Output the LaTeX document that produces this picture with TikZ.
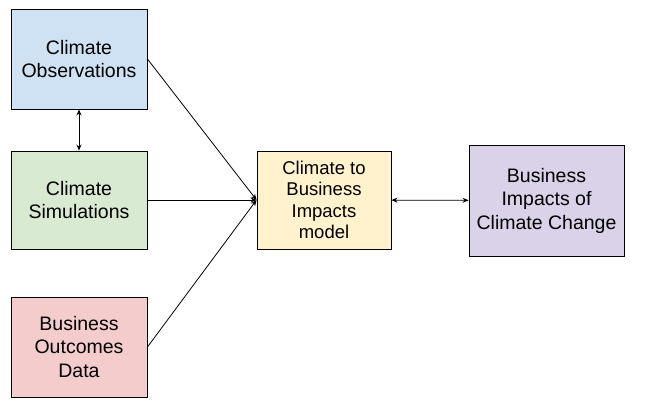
\documentclass[tikz,border=0pt]{standalone}
\usepackage{fontspec}
\setmainfont{Liberation Sans}
\usepackage{tikz}
\usetikzlibrary{arrows.meta,positioning}
\definecolor{obsblue}{HTML}{CFE2F3}
\definecolor{simgreen}{HTML}{D9EAD3}
\definecolor{datared}{HTML}{F4CCCC}
\definecolor{modelyellow}{HTML}{FFF2CC}
\definecolor{impactpurple}{HTML}{D9D2E9}
\begin{document}
\begin{tikzpicture}[
  x=1pt, y=-1pt,
  box/.style={draw, line width=0.9pt, inner sep=0pt, align=center,
    font=\fontsize{19.5}{23.5}\selectfont},
  arr/.style={line width=0.8pt, -{Stealth[length=6pt,width=5pt]}},
  darr/.style={line width=0.8pt, {Stealth[length=6pt,width=5pt]}-{Stealth[length=6pt,width=5pt]}}
]
\useasboundingbox (0,0) rectangle (658,412);
\node[box, fill=obsblue, minimum width=136pt, minimum height=100pt] (obs) at (79,59) {Climate\\Observations};
\node[box, fill=simgreen, minimum width=136pt, minimum height=98pt] (sim) at (79,200) {Climate\\Simulations};
\node[box, fill=datared, minimum width=136pt, minimum height=100pt] (data) at (79,347) {Business\\Outcomes\\Data};
\node[box, fill=modelyellow, minimum width=134pt, minimum height=98pt,
  font=\fontsize{18.5}{21.5}\selectfont] (model) at (324,200) {Climate to\\Business\\Impacts\\model};
\node[box, fill=impactpurple, minimum width=155pt, minimum height=111pt] (impact) at (546.5,200.5) {Business\\Impacts of\\Climate Change};
\draw[darr] (obs) -- (sim);
\draw[arr] (obs.east) -- (model.west);
\draw[arr] (sim) -- (model);
\draw[arr] (data.east) -- (model.west);
\draw[darr] (model) -- (impact);
\end{tikzpicture}
\end{document}
